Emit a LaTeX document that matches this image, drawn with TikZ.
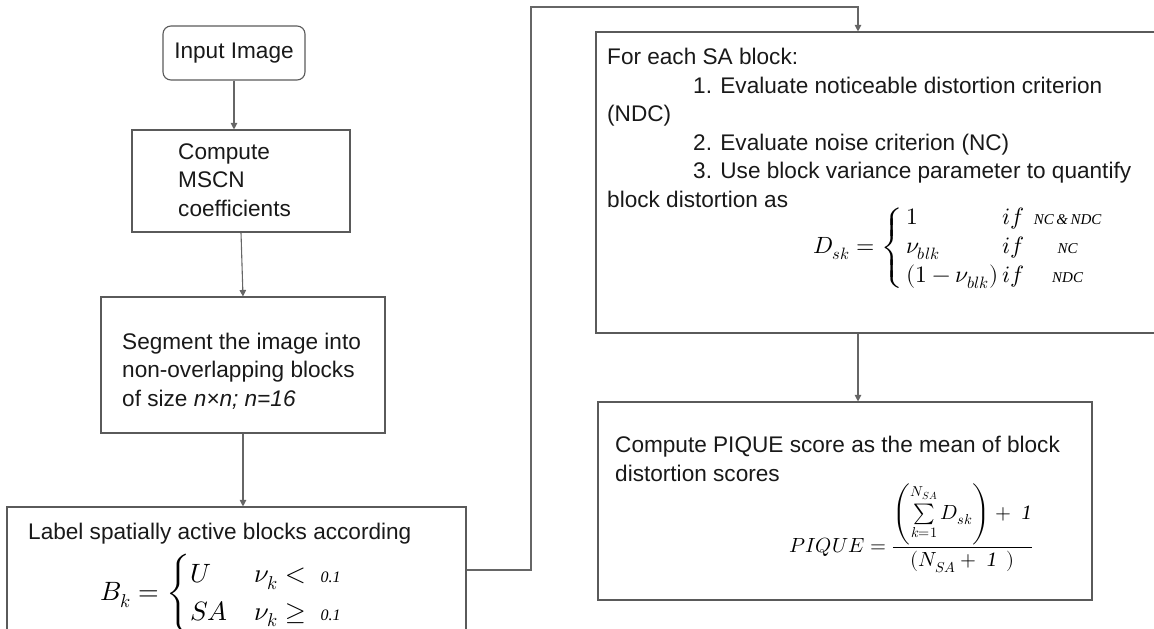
\documentclass[tikz,border=0pt]{standalone}
\usepackage{amsmath}
\usepackage{fontspec}
\usepackage{unicode-math}
\setmainfont{Liberation Sans}
\setmathfont{Latin Modern Math}
\newfontfamily\tagserif{Liberation Serif}
\usetikzlibrary{arrows.meta}
\newcommand{\tg}[1]{\text{\tagserif\itshape #1}}
\definecolor{edgegray}{HTML}{5A5A5A}
\definecolor{linkgray}{HTML}{666666}
\tikzset{
  box/.style={draw=edgegray, line width=1.1pt, fill=none, inner sep=0pt},
  link/.style={draw=linkgray, line width=1.1pt, -{Triangle[width=6.5pt,length=6.5pt]}},
  txt/.style={inner sep=0pt, align=left, text=black!90, font=\fontsize{22.6}{28.5}\selectfont},
}
\begin{document}
\begin{tikzpicture}[x=1pt,y=-1pt]
\useasboundingbox (0,0) rectangle (1154,629);

% process boxes
\node[box, rounded corners=8pt, minimum width=142pt, minimum height=54pt] (in) at (234,53) {};
\node[box, minimum width=218pt, minimum height=102pt] (mscn) at (241,181) {};
\node[box, minimum width=284pt, minimum height=136pt] (seg) at (243,365) {};
\node[box, minimum width=459pt, minimum height=160pt] (lab) at (236.5,587) {};
\node[box, minimum width=566pt, minimum height=301pt] (sa) at (879,182.5) {};
\node[box, minimum width=494pt, minimum height=198pt] (pq) at (845,501) {};

% texts
\node[txt] (tin) at (234,53) {Input Image};
\node[txt, anchor=west] (tmscn) at (178,180) {Compute\\MSCN\\coefficients};
\node[txt, anchor=west] (tseg) at (122,371) {Segment the image into\\non-overlapping blocks\\of size \textit{n×n; n=16}};
\node[txt, anchor=west] (tlab) at (28,534) {Label spatially active blocks according};
\node[font=\fontsize{26.5}{31}\selectfont, inner sep=0pt] (flab) at (221,594)
  {$B_k=\begin{cases}U & \nu_k<\ \tg{\fontsize{16}{16}\selectfont 0.1}\\ SA & \nu_k\geq\ \tg{\fontsize{16}{16}\selectfont 0.1}\end{cases}$};
\node[txt, anchor=west] (tsa) at (607,128) {For each SA block:\\
  \hspace*{86pt}1. Evaluate noticeable distortion criterion\\
  (NDC)\\
  \hspace*{86pt}2. Evaluate noise criterion (NC)\\
  \hspace*{86pt}3. Use block variance parameter to quantify\\
  block distortion as};
\node[font=\fontsize{23.5}{28}\selectfont, inner sep=0pt] (fsa) at (958,248)
  {$D_{sk}=\left\{\,\begin{array}{@{}l@{\,}l@{\hspace{10pt}}c@{}}
   1 & if & \tg{\fontsize{15}{15}\selectfont NC\,\&\,NDC}\\[1pt]
   \nu_{blk} & if & \tg{\fontsize{15}{15}\selectfont NC}\\[1pt]
   (1-\nu_{blk}) & if & \tg{\fontsize{15}{15}\selectfont NDC}
  \end{array}\right.$};
\node[txt, anchor=west] (tpq) at (615,459) {Compute PIQUE score as the mean of block\\distortion scores};
\node[font=\fontsize{20.5}{24}\selectfont, inner sep=0pt] (fpq) at (911,528)
  {$PIQUE=\dfrac{\left(\sum\limits_{k=1}^{N_{SA}} D_{sk}\right)+\ \tg{1}}{(N_{SA}+\ \tg{1}\ \,)}$};

% connectors
\draw[link] (in.south) -- (in.south |- mscn.north);
\draw[link] (mscn.south) -- (seg.north);
\draw[link] (seg.south) -- (lab.north -| seg.south);
\coordinate (c1) at (531,570);
\coordinate (c2) at (531,7);
\coordinate (c3) at (858,7);
\draw[link] (lab.east |- c1) -- (c1) -- (c2) -- (c3) -- (c3 |- sa.north);
\draw[link] (sa.south -| c3) -- (pq.north -| c3);
\end{tikzpicture}
\end{document}
